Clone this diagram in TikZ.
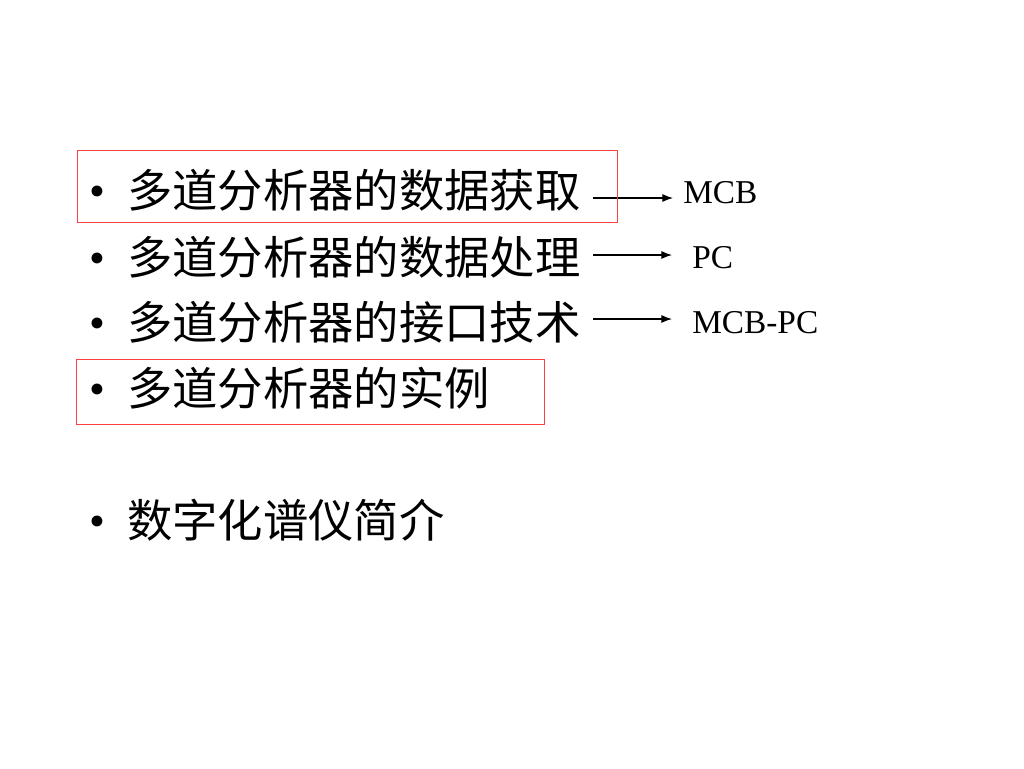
\documentclass[tikz,border=0pt]{standalone}
\usepackage{fontspec}
\setmainfont{Liberation Serif}
\newfontfamily\cjk{Noto Sans CJK SC}
\usetikzlibrary{arrows.meta}

\begin{document}
\begin{tikzpicture}[x=0.75pt,y=-0.75pt,
    item/.style={anchor=west,inner sep=0pt,font=\fontsize{34}{40}\selectfont\cjk},
    dot/.style={inner sep=0pt,font=\fontsize{34}{40}\selectfont},
    target/.style={anchor=west,inner sep=0pt,font=\fontsize{25}{30}\selectfont},
    hilite/.style={draw=red!75!white,line width=0.75pt},
    arr/.style={-{Latex[length=8pt,width=6pt]},line width=0.8pt}]
            \useasboundingbox (0,0) rectangle (1024,768);
            \node[dot] (B1) at (97,196) {\textbullet};
            \node[dot] (B2) at (97,263) {\textbullet};
            \node[dot] (B3) at (97,328) {\textbullet};
            \node[dot] (B4) at (97,394) {\textbullet};
            \node[dot] (B5) at (97,526) {\textbullet};
            \node[item] (T1) at (127,190) {多道分析器的数据获取};
            \node[item] (T2) at (127,257) {多道分析器的数据处理};
            \node[item] (T3) at (127,322) {多道分析器的接口技术};
            \node[item] (T4) at (127,388) {多道分析器的实例};
            \node[item] (T5) at (127,520) {数字化谱仪简介};
            \node[target] (M1) at (683,193) {MCB};
            \node[target] (M2) at (692,258) {PC};
            \node[target] (M3) at (692,323) {MCB-PC};
            \coordinate (S1) at (593,198);
            \coordinate (S2) at (593,255);
            \coordinate (S3) at (593,319);
            \coordinate (E1) at (673,198);
            \coordinate (E2) at (672,255);
            \coordinate (E3) at (672,319);
            \draw[arr] (S1) -- (E1);
            \draw[arr] (S2) -- (E2);
            \draw[arr] (S3) -- (E3);
            \draw[hilite] (77,150) rectangle (617,222);
            \draw[hilite] (76,359) rectangle (544,424);
        \end{tikzpicture}
\end{document}
